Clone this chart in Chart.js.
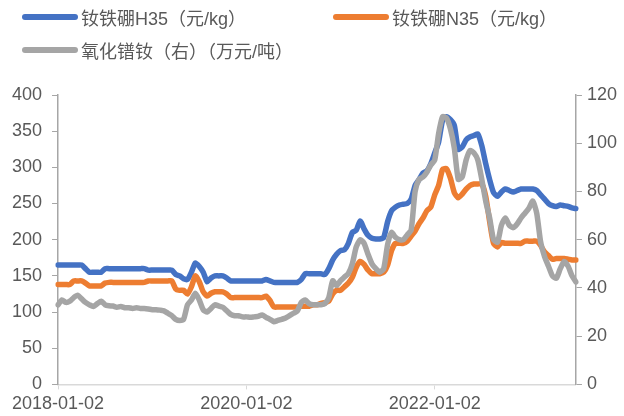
<!DOCTYPE html>
<html>
<head>
<meta charset="utf-8">
<script src="https://cdn.jsdelivr.net/npm/chart.js@4/dist/chart.umd.min.js"></script>
<style>
  html, body { margin: 0; padding: 0; background: #fff; }
  #wrap { position: relative; width: 624px; height: 416px; }
  #legend div.item {
    position: absolute; display: flex; align-items: center; height: 22px;
    font-family: "Liberation Sans", "Noto Sans CJK SC", sans-serif; font-size: 18px; color: #595959;
    white-space: nowrap;
  }
  #legend span.mark { display: inline-block; width: 56px; height: 6px; border-radius: 3px; margin-right: 3px; }
</style>
</head>
<body>
<div id="wrap">
  <canvas id="myChart" width="624" height="416"></canvas>
  <div id="legend"></div>
</div>
<script>
// semi-monthly dates, 2018-01 .. 2023-07
const dates = [];
for (let m = 0; m <= 66; m++) {
  const y = 2018 + Math.floor(m / 12);
  const mm = String(m % 12 + 1).padStart(2, '0');
  dates.push(`${y}-${mm}-02`);
  if (m < 66) dates.push(`${y}-${mm}-16`);
}
const tickDates = ['2018-01-02', '2020-01-02', '2022-01-02'];

// 钕铁硼H35 (元/kg)
const h35 = [
  165,165,165,165,165,165,165,160,155,155,
  155,155,160,160,160,160,160,160,160,160,
  160,160,160,158,158,158,158,158,158,158,
  152,150,146,145,155,168,163,155,142,147,
  150,150,150,147,143,143,143,143,143,143,
  143,143,143,145,143,141,141,141,141,141,
  141,141,145,153,153,153,153,153,152,160,
  172,180,185,186,195,210,213,226,215,206,
  202,201,201,203,225,240,245,248,249,250,
  256,275,283,292,295,305,320,335,365,370,
  366,358,325,328,338,342,344,346,330,305,
  283,265,260,266,270,268,266,268,270,270,
  270,270,268,262,256,250,247,246,248,247,
  246,244,243
];
// 钕铁硼N35 (元/kg)
const n35 = [
  138,138,138,138,143,143,143,140,136,136,
  136,136,140,141,141,141,141,141,141,141,
  141,141,141,143,143,143,143,143,143,143,
  132,130,130,125,135,150,142,128,122,126,
  128,128,128,125,120,120,120,120,120,120,
  120,120,120,122,116,107,107,107,107,107,
  107,107,108,108,108,110,110,112,113,115,
  125,130,130,135,140,148,162,170,166,158,
  153,153,153,155,165,185,195,195,195,198,
  205,212,222,230,240,245,262,275,297,298,
  285,265,258,263,270,275,277,277,277,260,
  225,195,190,196,195,195,195,195,195,198,
  198,198,198,192,183,178,173,174,174,174,
  173,172,172
];
// 氧化镨钕 (万元/吨), right axis
const ndpr = [
  33,35,34,34.5,36,37,35.5,34,33,32.3,
  33.5,34.5,33,32.6,32.5,32,32.3,31.8,31.8,31.5,
  31.8,31.5,31.5,31.3,31,31,30.8,30.5,29.5,28.5,
  27,26.5,27,33,35,37.8,35,31,30,31.5,
  33,32.5,32,30.5,29,28.5,28.5,28,28,27.8,
  28,28.2,28.8,27.8,27,26,26.5,27,27.5,28.5,
  29.5,30.5,34,35,33.5,33,33,33,33.5,36,
  43,41,43,44.5,46,50,57,60,58.5,54,
  50,48,46.5,48,58,63,61,60,60,62,
  64,80,85,86,88,91,93,104,111,110.5,
  106,98,85,86,93,97,96,93,85,76,
  69,60,59,66,69,66,65,66.5,69,71,
  73,76,71,59,53,49,45,44,48,51,
  49,45,42.5
];

const textColor = '#595959';
const font = { family: '"Liberation Sans", "Noto Sans CJK SC", sans-serif', size: 18 };

const datasets = [
  { label: '钕铁硼H35（元/kg）', data: h35, borderColor: '#4472C4', yAxisID: 'y', order: 2 },
  { label: '钕铁硼N35（元/kg）', data: n35, borderColor: '#ED7D31', yAxisID: 'y', order: 1 },
  { label: '氧化镨钕（右）（万元/吨）', data: ndpr, borderColor: '#A5A5A5', yAxisID: 'y1', order: 0 }
].map(d => Object.assign(d, {
  backgroundColor: d.borderColor, borderWidth: 5.5, pointRadius: 0,
  tension: 0.2, borderJoinStyle: 'round', borderCapStyle: 'round'
}));

new Chart(document.getElementById('myChart'), {
  type: 'line',
  data: { labels: dates, datasets: datasets },
  options: {
    responsive: false,
    animation: false,
    layout: { padding: { top: 95, left: 2, right: 2, bottom: -3 } },
    plugins: { legend: { display: false }, tooltip: { enabled: false } },
    scales: {
      x: {
        grid: { drawOnChartArea: false, color: '#D9D9D9', tickLength: 5 },
        border: { color: '#D9D9D9', width: 1.5 },
        afterBuildTicks: s => { s.ticks = s.ticks.filter(t => tickDates.includes(dates[t.value])); },
        ticks: { autoSkip: false, maxRotation: 0, color: textColor, font: font, padding: 4 }
      },
      y: {
        min: 0, max: 400,
        grid: { drawOnChartArea: false, color: '#A6A6A6', tickLength: 6 },
        border: { color: '#A6A6A6', width: 1.5 },
        ticks: { stepSize: 50, color: textColor, font: font, padding: 10 }
      },
      y1: {
        position: 'right', min: 0, max: 120,
        grid: { drawOnChartArea: false, color: '#A6A6A6', tickLength: 6 },
        border: { color: '#A6A6A6', width: 1.5 },
        ticks: { stepSize: 20, color: textColor, font: font, padding: 5 }
      }
    }
  }
});

// legend as html
const legendPos = [[22, 6], [333, 6], [22, 39]];
const legend = document.getElementById('legend');
datasets.forEach((d, i) => {
  const item = document.createElement('div');
  item.className = 'item';
  item.style.left = legendPos[i][0] + 'px';
  item.style.top = legendPos[i][1] + 'px';
  item.innerHTML = `<span class="mark" style="background:${d.borderColor}"></span><span>${d.label}</span>`;
  legend.appendChild(item);
});
</script>
</body>
</html>
